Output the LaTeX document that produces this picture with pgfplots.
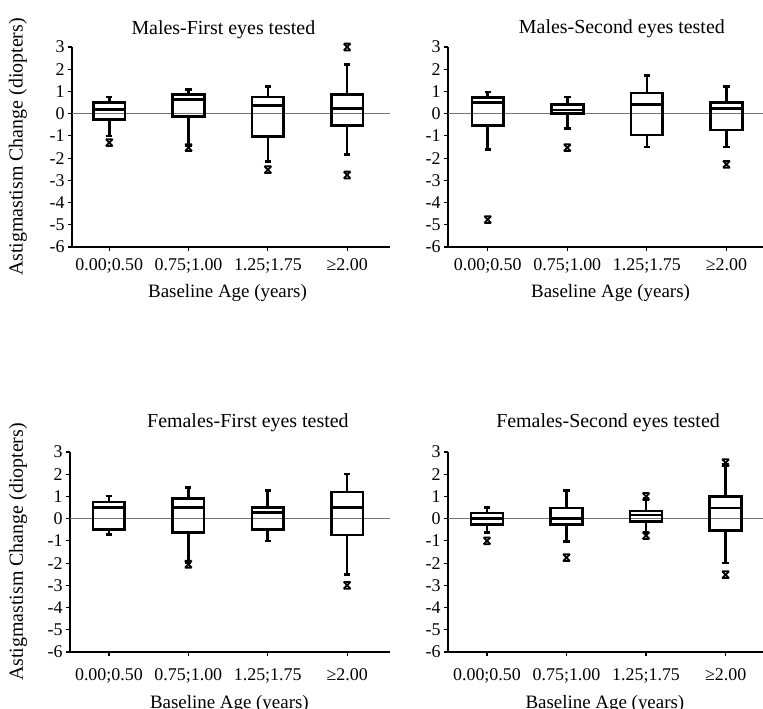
\documentclass[border=0pt]{standalone}
\usepackage{fontspec}
\setmainfont{Liberation Serif}
\usepackage{pgfplots}
\pgfplotsset{compat=1.18}
\usepgfplotslibrary{statistics}
\pgfdeclareplotmark{hx}{%
 \pgfpathmoveto{\pgfqpoint{-\pgfplotmarksize}{-\pgfplotmarksize}}%
 \pgfpathlineto{\pgfqpoint{\pgfplotmarksize}{\pgfplotmarksize}}%
 \pgfpathmoveto{\pgfqpoint{-\pgfplotmarksize}{\pgfplotmarksize}}%
 \pgfpathlineto{\pgfqpoint{\pgfplotmarksize}{-\pgfplotmarksize}}%
 \pgfpathmoveto{\pgfqpoint{-\pgfplotmarksize}{\pgfplotmarksize}}%
 \pgfpathlineto{\pgfqpoint{\pgfplotmarksize}{\pgfplotmarksize}}%
 \pgfpathmoveto{\pgfqpoint{-\pgfplotmarksize}{-\pgfplotmarksize}}%
 \pgfpathlineto{\pgfqpoint{\pgfplotmarksize}{-\pgfplotmarksize}}%
 \pgfusepathqstroke}
\pgfplotsset{
 panel/.style={scale only axis, height=200bp, anchor=south west,
  ymin=-6, ymax=3, ytick={-6,-5,-4,-3,-2,-1,0,1,2,3},
  yticklabels={-6,-5,-4,-3,-2,-1,0,1,2,3},
  xtick={0,1,2,3}, xticklabels={0.00;0.50,0.75;1.00,1.25;1.75,≥2.00},
  axis x line*=bottom, axis y line*=left,
  axis line style={line width=1.6bp,-},
  tick style={black,line width=1.2bp}, tick align=outside, major tick length=4bp,
  clip=false,
  ticklabel style={font=\fontsize{18}{20}\selectfont},
  label style={font=\fontsize{19}{22}\selectfont},
  every axis title/.style={font=\fontsize{20}{22}\selectfont, anchor=base},
  xlabel={Baseline Age (years)}},
 bx/.style={black, line width=2.6bp, mark=hx, mark size=3.4bp,
  mark options={solid, line width=1.8bp},
  boxplot/draw direction=y,
  boxplot/box extend=0.4, boxplot/whisker extend=0.08,
  boxplot/every median/.append style={black, line width=2.6bp}},
 zl/.style={black!55, line width=1bp, forget plot},
}
\begin{document}
\begin{tikzpicture}
\useasboundingbox (0,0) rectangle (763bp,-709bp);
% ---------------- Males - First
\begin{axis}[panel, at={(72bp,-247bp)}, width=318bp, xmin=-0.47, xmax=3.54,
 xticklabel style={anchor=base, yshift=-19bp},
 title={Males-First eyes tested}, title style={at={(axis description cs:0.476,1.065)}},
 xlabel style={at={(axis description cs:0.489,-0.25)}, anchor=base},
 ylabel={\fontsize{20}{22}\selectfont Astigmastism Change (diopters)},
 ylabel style={at={(axis description cs:-0.17,0.5)}, anchor=center}]
\addplot[zl] coordinates {(-0.47,0) (3.54,0)};
\addplot[bx, boxplot prepared={draw position=0, lower whisker=-1.0, lower quartile=-0.25, median=0.18, upper quartile=0.5, upper whisker=0.75}] coordinates {(0,-1.3)};
\addplot[bx, boxplot prepared={draw position=1, lower whisker=-1.45, lower quartile=-0.12, median=0.65, upper quartile=0.87, upper whisker=1.1}] coordinates {(1,-1.53)};
\addplot[bx, boxplot prepared={draw position=2, lower whisker=-2.15, lower quartile=-1.02, median=0.36, upper quartile=0.75, upper whisker=1.23}] coordinates {(2,-2.52)};
\addplot[bx, boxplot prepared={draw position=3, lower whisker=-1.83, lower quartile=-0.54, median=0.24, upper quartile=0.87, upper whisker=2.2}] coordinates {(3,3.0) (3,-2.76)};
\end{axis}
% ---------------- Males - Second
\begin{axis}[panel, at={(448bp,-247bp)}, width=315bp, xmin=-0.5, xmax=3.46,
 xticklabel style={anchor=base, yshift=-19bp},
 title={Males-Second eyes tested}, title style={at={(axis description cs:0.552,1.07)}},
 xlabel style={at={(axis description cs:0.516,-0.25)}, anchor=base}]
\addplot[zl] coordinates {(-0.5,0) (3.46,0)};
\addplot[bx, boxplot prepared={draw position=0, lower whisker=-1.62, lower quartile=-0.54, median=0.51, upper quartile=0.72, upper whisker=0.98}] coordinates {(0,-4.77)};
\addplot[bx, boxplot prepared={draw position=1, lower whisker=-0.68, lower quartile=0.02, median=0.17, upper quartile=0.42, upper whisker=0.75}] coordinates {(1,-1.53)};
\addplot[bx, boxplot prepared={draw position=2, lower whisker=-1.5, lower quartile=-0.96, median=0.42, upper quartile=0.93, upper whisker=1.71}] coordinates {};
\addplot[bx, boxplot prepared={draw position=3, lower whisker=-1.5, lower quartile=-0.74, median=0.24, upper quartile=0.5, upper whisker=1.23}] coordinates {(3,-2.28)};
\end{axis}
% ---------------- Females - First
\begin{axis}[panel, at={(70bp,-652bp)}, width=320bp, xmin=-0.49, xmax=3.54,
 xticklabel style={anchor=base, yshift=-24bp},
 title={Females-First eyes tested}, title style={at={(axis description cs:0.556,1.125)}},
 xlabel style={at={(axis description cs:0.498,-0.28)}, anchor=base},
 ylabel={\fontsize{20}{22}\selectfont Astigmastism Change (diopters)},
 ylabel style={at={(axis description cs:-0.1625,0.5)}, anchor=center}]
\addplot[zl] coordinates {(-0.49,0) (3.54,0)};
\addplot[bx, boxplot prepared={draw position=0, lower whisker=-0.72, lower quartile=-0.5, median=0.51, upper quartile=0.75, upper whisker=1.02}] coordinates {};
\addplot[bx, boxplot prepared={draw position=1, lower whisker=-1.98, lower quartile=-0.62, median=0.51, upper quartile=0.9, upper whisker=1.4}] coordinates {(1,-2.05)};
\addplot[bx, boxplot prepared={draw position=2, lower whisker=-1.0, lower quartile=-0.5, median=0.27, upper quartile=0.5, upper whisker=1.27}] coordinates {};
\addplot[bx, boxplot prepared={draw position=3, lower whisker=-2.52, lower quartile=-0.74, median=0.51, upper quartile=1.2, upper whisker=2.01}] coordinates {(3,-3.0)};
\end{axis}
% ---------------- Females - Second
\begin{axis}[panel, at={(448bp,-652bp)}, width=315bp, xmin=-0.49, xmax=3.47,
 xticklabel style={anchor=base, yshift=-24bp},
 title={Females-Second eyes tested}, title style={at={(axis description cs:0.508,1.125)}},
 xlabel style={at={(axis description cs:0.498,-0.28)}, anchor=base}]
\addplot[zl] coordinates {(-0.49,0) (3.47,0)};
\addplot[bx, boxplot prepared={draw position=0, lower whisker=-0.63, lower quartile=-0.27, median=0.0, upper quartile=0.25, upper whisker=0.5}] coordinates {(0,-1.0)};
\addplot[bx, boxplot prepared={draw position=1, lower whisker=-1.02, lower quartile=-0.25, median=0.0, upper quartile=0.48, upper whisker=1.27}] coordinates {(1,-1.75)};
\addplot[bx, boxplot prepared={draw position=2, lower whisker=-0.63, lower quartile=-0.12, median=0.17, upper quartile=0.35, upper whisker=0.9}] coordinates {(2,1.0) (2,-0.76)};
\addplot[bx, boxplot prepared={draw position=3, lower whisker=-2.0, lower quartile=-0.52, median=0.48, upper quartile=1.0, upper whisker=2.45}] coordinates {(3,2.52) (3,-2.52)};
\end{axis}
\end{tikzpicture}
\end{document}
